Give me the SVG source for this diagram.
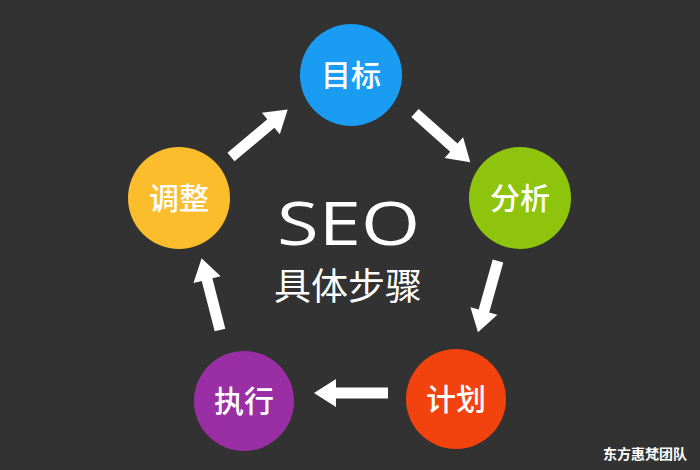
<svg xmlns="http://www.w3.org/2000/svg" xmlns:xlink="http://www.w3.org/1999/xlink" width="700" height="470" viewBox="0 0 700 470">
<style>
.bg{fill:#323232}
.lbl{font-family:"Noto Sans CJK SC","Noto Sans",sans-serif;font-size:30px;font-weight:500;fill:#ffffff;text-anchor:middle}
.arrow{fill:#ffffff}
.title{font-family:"Open Sans","Noto Sans",sans-serif;font-size:60px;fill:#ffffff}
.sub{font-family:"Noto Sans CJK SC",sans-serif;font-size:37px;fill:#ffffff;text-anchor:middle}
.wm{font-family:"Noto Sans CJK SC",sans-serif;font-size:14px;font-weight:700;fill:#ffffff}
</style>
<defs>
<path id="arr" d="M0,-5.5 L52,-5.5 L52,-14 L74,0 L52,14 L52,5.5 L0,5.5 Z"/>
</defs>
<rect class="bg" x="0" y="0" width="700" height="470"/>
<g id="connectors" class="arrow">
<use xlink:href="#arr" transform="translate(231,157) rotate(-40)"/>
<use xlink:href="#arr" transform="translate(415,113) rotate(41.7)"/>
<use xlink:href="#arr" transform="translate(498,261) rotate(105.7)"/>
<use xlink:href="#arr" transform="translate(388,393) rotate(180)"/>
<use xlink:href="#arr" transform="translate(220,330) rotate(-104.4)"/>
</g>
<g id="node-mubiao">
<circle cx="351" cy="75" r="51" fill="#1a9cf2"/>
<text class="lbl" x="351" y="86">目标</text>
</g>
<g id="node-fenxi">
<circle cx="520" cy="198" r="51" fill="#8ec40c"/>
<text class="lbl" x="520" y="209">分析</text>
</g>
<g id="node-jihua">
<circle cx="456" cy="399" r="50" fill="#f2420e"/>
<text class="lbl" x="456" y="410">计划</text>
</g>
<g id="node-zhixing">
<circle cx="244" cy="401" r="50" fill="#9a2ea4"/>
<text class="lbl" x="244" y="412">执行</text>
</g>
<g id="node-tiaozheng">
<circle cx="179" cy="198" r="51" fill="#fbbd2c"/>
<text class="lbl" x="179" y="209">调整</text>
</g>
<g id="center">
<text class="title" x="277" y="245" textLength="143" lengthAdjust="spacingAndGlyphs">SEO</text>
<text class="sub" x="348" y="300">具体步骤</text>
</g>
<text class="wm" x="603" y="459">东方惠梵团队</text>
</svg>
